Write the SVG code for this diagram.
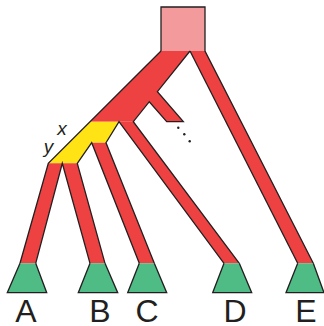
<svg xmlns="http://www.w3.org/2000/svg" width="324" height="326" viewBox="0 0 324 326">
<style>
.red{fill:#ee4242;stroke:none}
.yel{fill:#ffe315;stroke:none}
.pink{fill:#f29a9c;stroke:none}
.grn{fill:#4fbb85;stroke:#231f20;stroke-width:1.3;stroke-linejoin:miter}
.ol{fill:none;stroke:#231f20;stroke-width:1.3;stroke-linejoin:miter}
.lbl{font-family:"Liberation Sans",Arial,sans-serif;font-size:32px;fill:#231f20;text-anchor:middle}
.var{font-family:"Liberation Sans",Arial,sans-serif;font-size:19px;font-style:italic;fill:#231f20;text-anchor:middle}
</style>
<g id="branches">
<polygon class="red" points="161,51 190,51 133.3,121.7 90,121.7"/>
<polygon class="red" points="157.4,91.7 183.3,121.7 166.7,121.7 149.3,101.7 150,90"/>
<polygon class="yel" points="90,121.7 119,121.7 106,142.7 91.7,142.7 77.3,163.3 48.3,163.3"/>
<polygon class="red" points="119,121.7 133.3,121.7 239.3,263.3 224,263.3"/>
<polygon class="red" points="91.7,142.7 106,142.7 154.3,263.3 139.3,263.3"/>
<polygon class="red" points="48.3,163.3 62.3,163.3 35.7,263.3 20,263.3"/>
<polygon class="red" points="62.3,163.3 77.3,163.3 105,263.3 90,263.3"/>
<polygon class="red" points="190,51 205,51 313.3,263.3 297.7,263.3"/>
</g>
<g id="root">
<rect class="pink" x="161" y="7" width="44" height="44"/>
</g>
<g id="outlines">
<path class="ol" d="M161,51 V7 H205 V51 L313.3,263.3"/>
<path class="ol" d="M161,51 L48.3,163.3 L20,263.3"/>
<path class="ol" d="M190,51 L157.4,91.7 L183.3,121.7 H166.7 L149.3,101.7 L133.3,121.7 L239.3,263.3"/>
<path class="ol" d="M190,51 L297.7,263.3"/>
<path class="ol" d="M154.3,263.3 L106,142.7 L119,121.7 L224,263.3"/>
<path class="ol" d="M105,263.3 L77.3,163.3 L91.7,142.7 L139.3,263.3"/>
<path class="ol" d="M35.7,263.3 L62.3,163.3 L90,263.3"/>
</g>
<g id="dots" fill="#231f20">
<circle cx="178.3" cy="127.7" r="1.2"/>
<circle cx="184.3" cy="134.3" r="1.2"/>
<circle cx="189.7" cy="141.3" r="1.2"/>
</g>
<g id="leafA"><path class="grn" d="M20,263.3 L7.3,292.7 H46.7 L35.7,263.3"/><text class="lbl" x="26" y="322">A</text></g>
<g id="leafB"><path class="grn" d="M90,263.3 L78.3,292.7 H117.7 L105,263.3"/><text class="lbl" x="100" y="322">B</text></g>
<g id="leafC"><path class="grn" d="M139.3,263.3 L127.7,292.7 H166.7 L154.3,263.3"/><text class="lbl" x="147" y="322">C</text></g>
<g id="leafD"><path class="grn" d="M224,263.3 L212.7,292.7 H251.7 L239.3,263.3"/><text class="lbl" x="235" y="322">D</text></g>
<g id="leafE"><path class="grn" d="M297.7,263.3 L286,292.7 H324 L313.3,263.3"/><text class="lbl" x="306" y="322">E</text></g>
<g id="labels">
<text class="var" x="62" y="135">x</text>
<text class="var" x="48.5" y="152.7">y</text>
</g>
</svg>
